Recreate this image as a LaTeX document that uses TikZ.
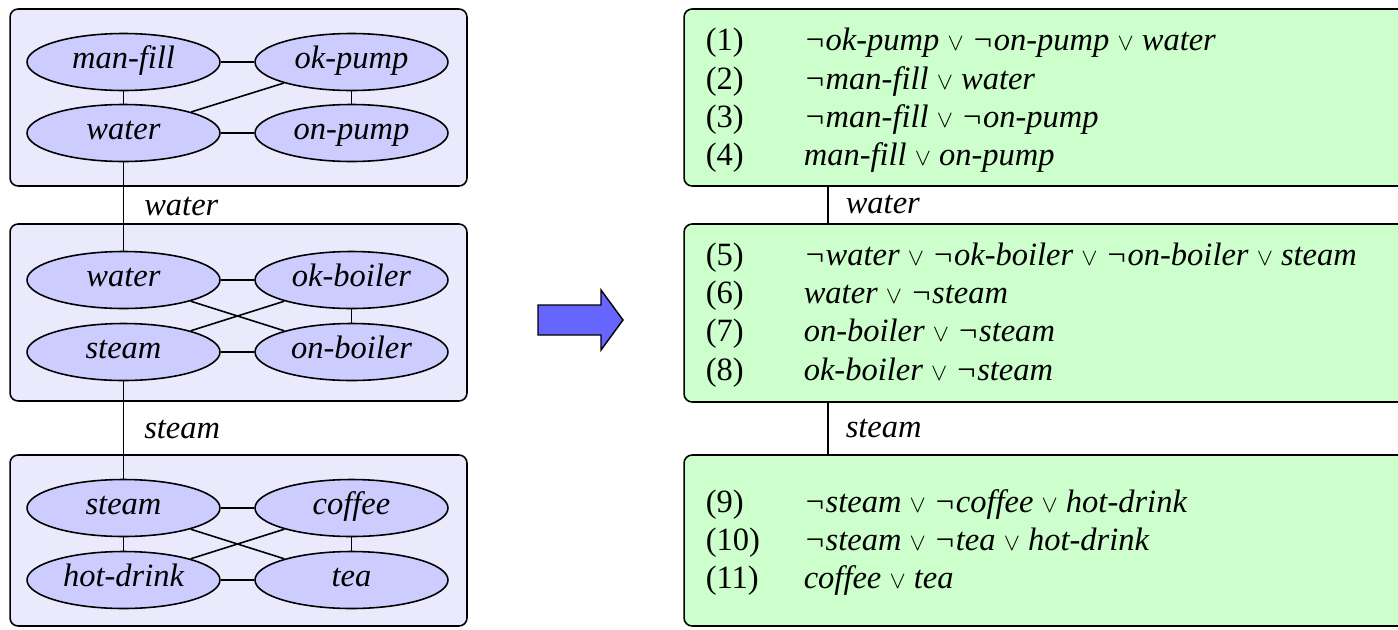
\documentclass[tikz,border=0pt]{standalone}
\usepackage{fontspec}
\setmainfont{Liberation Serif}
\usetikzlibrary{shapes.geometric, positioning, calc}
\definecolor{grpfill}{RGB}{234,234,252}
\definecolor{varfill}{RGB}{204,204,255}
\definecolor{cnffill}{RGB}{204,255,204}
\definecolor{arrfill}{RGB}{102,102,255}
\newcommand{\orsym}{\scalebox{0.8}{$\vee$}}

\begin{document}
\begin{tikzpicture}[x=0.02cm, y=-0.02cm,
  font=\fontsize{18.5}{21}\selectfont\itshape,
  line width=0.9pt,
  grp/.style={rectangle, draw, rounded corners=0.16cm, fill=grpfill,
             minimum width=9.14cm, inner sep=0pt},
  var/.style={ellipse, draw, fill=varfill, minimum width=3.86cm,
             minimum height=1.14cm, inner sep=0pt, text height=0.75em,
             text depth=0.05em},
  cnf/.style={rectangle, draw, rounded corners=0.16cm, fill=cnffill,
             minimum width=14.6cm, inner sep=0pt},
  cl/.style={anchor=west, inner sep=0pt, text height=0.7em, text depth=0.25em},
  sep/.style={right=0.4cm, inner sep=0pt},
]
\useasboundingbox (0,0) rectangle (1398,629);

% ---- Left: primal graph, split in three parts ----
\node[grp, minimum height=3.54cm] (g1) at (238.5, 97.5) {};
\node[grp, minimum height=3.54cm] (g2) at (238.5, 312.5) {};
\node[grp, minimum height=3.42cm] (g3) at (238.5, 540.5) {};

\node[var] (mf)   at (123.5, 62)  {man-fill};
\node[var] (okp)  at (351.5, 62)  {ok-pump};
\node[var] (wat1) at (123.5, 133) {water};
\node[var] (onp)  at (351.5, 133) {on-pump};

\node[var] (wat2) at (123.5, 280) {water};
\node[var] (okb)  at (351.5, 280) {ok-boiler};
\node[var] (st2)  at (123.5, 352) {steam};
\node[var] (onb)  at (351.5, 352) {on-boiler};

\node[var] (st3)  at (123.5, 508) {steam};
\node[var] (cof)  at (351.5, 508) {coffee};
\node[var] (hd)   at (123.5, 580) {hot-drink};
\node[var] (tea)  at (351.5, 580) {tea};

\draw (mf) -- (okp);
\draw (mf) -- (wat1);
\draw (okp) -- (onp);
\draw (wat1) -- (okp);
\draw (wat1) -- (onp);

\draw (wat2) -- (okb);
\draw (okb) -- (onb);
\draw (wat2) -- (onb);
\draw (st2) -- (okb);
\draw (st2) -- (onb);

\draw (st3) -- (cof);
\draw (st3) -- (hd);
\draw (cof) -- (tea);
\draw (st3) -- (tea);
\draw (hd) -- (cof);
\draw (hd) -- (tea);

\draw (wat1) -- node[sep] (lw) {water} (wat2);
\draw (st2) -- node[sep] (ls) {steam} (st3);

% ---- Arrow ----
\draw[fill=arrfill, line width=0.8pt] (538,305) -- (601,305) -- (601,290) -- (623,320)
  -- (601,350) -- (601,335) -- (538,335) -- cycle;

% ---- Right: clauses, split in three parts ----
\node[cnf, minimum height=3.54cm] (cA) at (1049, 97.5) {};
\node[cnf, minimum height=3.56cm] (cB) at (1049, 313) {};
\node[cnf, minimum height=3.42cm] (cC) at (1049, 540.5) {};

\coordinate (cx) at (828, 0);
\draw (cA.south -| cx) -- node[sep, right=0.34cm] (rw) {water} (cB.north -| cx);
\draw (cB.south -| cx) -- node[sep, right=0.34cm] (rs) {steam} (cC.north -| cx);

\node[cl] (c1)  at (705, 47)  {\makebox[1.96cm][l]{\upshape(1)}¬ok-pump \orsym{} ¬on-pump \orsym{} water};
\node[cl] (c2)  at (705, 86)  {\makebox[1.96cm][l]{\upshape(2)}¬man-fill \orsym{} water};
\node[cl] (c3)  at (705, 124) {\makebox[1.96cm][l]{\upshape(3)}¬man-fill \orsym{} ¬on-pump};
\node[cl] (c4)  at (705, 162) {\makebox[1.96cm][l]{\upshape(4)}man-fill \orsym{} on-pump};

\node[cl] (c5)  at (705, 262) {\makebox[1.96cm][l]{\upshape(5)}¬water \orsym{} ¬ok-boiler \orsym{} ¬on-boiler \orsym{} steam};
\node[cl] (c6)  at (705, 300) {\makebox[1.96cm][l]{\upshape(6)}water \orsym{} ¬steam};
\node[cl] (c7)  at (705, 338) {\makebox[1.96cm][l]{\upshape(7)}on-boiler \orsym{} ¬steam};
\node[cl] (c8)  at (705, 377) {\makebox[1.96cm][l]{\upshape(8)}ok-boiler \orsym{} ¬steam};

\node[cl] (c9)  at (705, 509) {\makebox[1.96cm][l]{\upshape(9)}¬steam \orsym{} ¬coffee \orsym{} hot-drink};
\node[cl] (c10) at (705, 547) {\makebox[1.96cm][l]{\upshape(10)}¬steam \orsym{} ¬tea \orsym{} hot-drink};
\node[cl] (c11) at (705, 585) {\makebox[1.96cm][l]{\upshape(11)}coffee \orsym{} tea};

\end{tikzpicture}
\end{document}
